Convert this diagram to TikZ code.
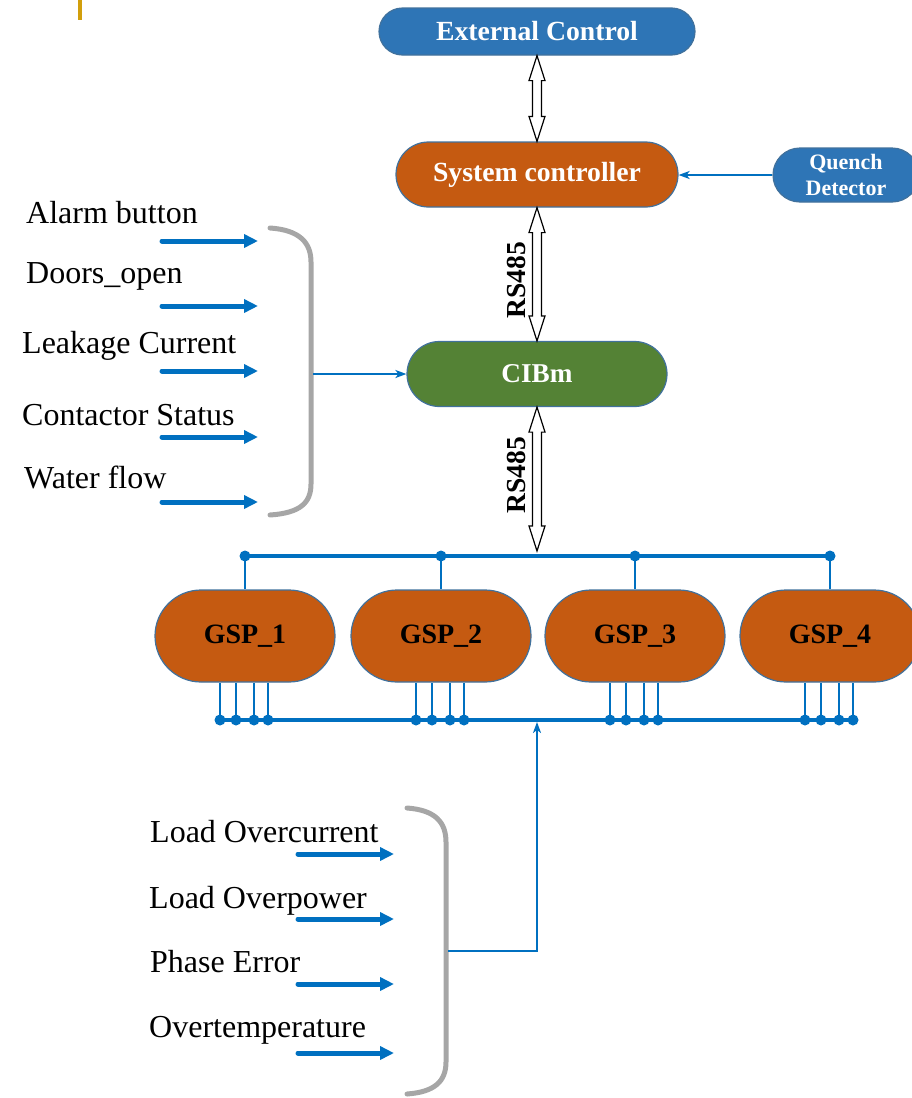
\documentclass[tikz,border=0pt]{standalone}
\usepackage{fontspec}
\setmainfont{Liberation Serif}
\usetikzlibrary{shapes.misc,arrows.meta,calc}
\definecolor{boxblue}{HTML}{2E75B6}
\definecolor{boxorange}{HTML}{C55A11}
\definecolor{boxgreen}{HTML}{548235}
\definecolor{edgeblue}{HTML}{41719C}
\definecolor{linkblue}{HTML}{0070C0}
\definecolor{brgray}{HTML}{A6A6A6}
\definecolor{goldbar}{HTML}{D29F0C}
\newcommand\dblhollow[2]{%
  \draw[line width=1.2pt, fill=white, line join=miter] let \p1=(#1), \p2=(#2) in
  (\x1,\y1) -- (\x1+8pt,\y1-25pt) -- (\x1+4.5pt,\y1-25pt) -- (\x1+4.5pt,\y2+25pt)
  -- (\x1+8pt,\y2+25pt) -- (\x1,\y2) -- (\x1-8pt,\y2+25pt) -- (\x1-4.5pt,\y2+25pt)
  -- (\x1-4.5pt,\y1-25pt) -- (\x1-8pt,\y1-25pt) -- cycle;}
\begin{document}
\begin{tikzpicture}[x=1pt,y=-1pt,
  pill/.style={rounded rectangle, draw=edgeblue, line width=1.2pt, inner sep=0pt},
  boxtext/.style={font=\fontsize{27.7}{31}\selectfont\bfseries, text=white},
  gsp/.style={pill, fill=boxorange, minimum width=180pt, minimum height=92pt,
    font=\fontsize{28}{31}\selectfont\bfseries, text=black},
  lbl/.style={inner sep=0pt, anchor=base west, font=\fontsize{32}{35}\selectfont},
  rslbl/.style={inner sep=0pt, rotate=90, font=\fontsize{27.5}{30}\selectfont\bfseries},
  inarrow/.style={draw=linkblue, line width=5pt, line cap=round,
    -{Triangle[length=14pt,width=13pt]}},
  thinarrow/.style={draw=linkblue, line width=1.8pt,
    -{Stealth[length=11pt,width=8pt,inset=3pt]}},
  bus/.style={draw=linkblue, line width=4pt},
  tap/.style={draw=linkblue, line width=1.3pt},
  dot/.style={fill=linkblue},
  bracket/.style={draw=brgray, line width=5pt, line cap=round}
]
\useasboundingbox (0,0) rectangle (912,1098);

% yellow mark
\fill[goldbar] (78,0) rectangle (82,20);

% main nodes
\node[pill, boxtext, fill=boxblue, minimum width=316pt, minimum height=47pt] (ext) at (537,31.5) {External Control};
\node[pill, boxtext, fill=boxorange, minimum width=282pt, minimum height=65pt] (sys) at (537,174.5) {System controller};
\node[pill, fill=boxblue, minimum width=146pt, minimum height=54pt, text=white, align=center,
  font=\fontsize{22}{26.5}\selectfont\bfseries] (qd) at (846,175) {Quench\\Detector};
\node[pill, boxtext, fill=boxgreen, minimum width=260pt, minimum height=65pt,
  font=\fontsize{27.2}{30}\selectfont\bfseries] (cibm) at (537,374) {CIBm};

% hollow double arrows
\dblhollow{ext.south}{sys.north}
\dblhollow{sys.south}{cibm.north}
\coordinate (bustop) at (537,551);
\dblhollow{cibm.south}{bustop}
\node[rslbl] (rs1) at (516,280) {RS485};
\node[rslbl] (rs2) at (516,475) {RS485};

% quench arrow
\draw[thinarrow] (qd.west) -- (sys.east |- qd.west);

% GSP nodes and buses
\coordinate (tbus) at (0,556);
\coordinate (bbus) at (0,720);
\foreach \i/\x in {1/245,2/441,3/635,4/830}{
  \node[gsp] (g\i) at (\x,636) {GSP\_\i};
  \coordinate (t\i) at (g\i.north |- tbus);
  \foreach \j/\o in {1/-25,2/-9,3/9,4/23}{
    \coordinate (b\i\j) at ($(g\i.center |- bbus)+(\o,0)$);
  }
}
\draw[bus] (t1) -- (t4);
\draw[bus] (b11) -- (b44);
\foreach \i in {1,2,3,4}{
  \draw[tap] (t\i) -- (g\i.north);
  \fill[dot] (t\i) circle[radius=5.5pt];
  \foreach \j in {1,2,3,4}{
    \draw[tap] (b\i\j) -- (b\i\j |- g\i.south);
    \fill[dot] (b\i\j) circle[radius=5.5pt];
  }
}

% upper inputs
\node[lbl] (l1) at (26,223) {Alarm button};
\node[lbl] (l2) at (26,283) {Doors\_open};
\node[lbl] (l3) at (22,353) {Leakage Current};
\node[lbl] (l4) at (22,425) {Contactor Status};
\node[lbl] (l5) at (24,488) {Water flow};
\foreach \k/\y in {1/241,2/306,3/371,4/437,5/502}{
  \coordinate (ua\k) at (162,\y);
  \coordinate (ub\k) at (258,\y);
  \draw[inarrow] (ua\k) -- (ub\k);
}
\draw[bracket] (270,228) .. controls (300,230) and (311,243) .. (311,262)
  -- (311,484) .. controls (311,503) and (300,513) .. (270,515);
\coordinate (brk1) at (313,374);
\draw[thinarrow] (brk1) -- (cibm.west);

% lower inputs
\node[lbl] (m1) at (150,842) {Load Overcurrent};
\node[lbl] (m2) at (149,908) {Load Overpower};
\node[lbl] (m3) at (150,972) {Phase Error};
\node[lbl] (m4) at (149,1037) {Overtemperature};
\foreach \k/\y in {1/854,2/919,3/984,4/1053}{
  \coordinate (la\k) at (298,\y);
  \coordinate (lb\k) at (394,\y);
  \draw[inarrow] (la\k) -- (lb\k);
}
\draw[bracket] (407,808) .. controls (435,810) and (446,822) .. (446,842)
  -- (446,1062) .. controls (446,1081) and (435,1092) .. (407,1094);
\coordinate (brk2) at (448,951);
\coordinate (busin) at (537,722);
\draw[thinarrow] (brk2) -| (busin);
\end{tikzpicture}
\end{document}
